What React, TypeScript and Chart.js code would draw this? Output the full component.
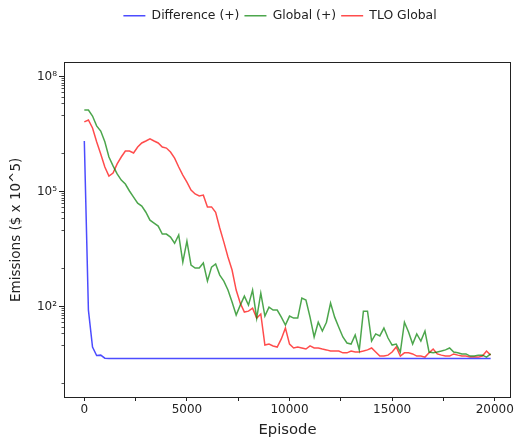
import React, { useEffect, useRef } from "react";
import { Chart, registerables } from "chart.js";

Chart.register(...registerables);

const FONT = "'DejaVu Sans', sans-serif";

const EPISODES = [
  0, 200, 400, 600, 800, 1000, 1200, 1400, 1600, 1800,
  2000, 2200, 2400, 2600, 2800, 3000, 3200, 3400, 3600, 3800,
  4000, 4200, 4400, 4600, 4800, 5000, 5200, 5400, 5600, 5800,
  6000, 6200, 6400, 6600, 6800, 7000, 7200, 7400, 7600, 7800,
  8000, 8200, 8400, 8600, 8800, 9000, 9200, 9400, 9600, 9800,
  10000, 10200, 10400, 10600, 10800, 11000, 11200, 11400, 11600, 11800,
  12000, 12200, 12400, 12600, 12800, 13000, 13200, 13400, 13600, 13800,
  14000, 14200, 14400, 14600, 14800, 15000, 15200, 15400, 15600, 15800,
  16000, 16200, 16400, 16600, 16800, 17000, 17200, 17400, 17600, 17800,
  18000, 18200, 18400, 18600, 18800, 19000, 19200, 19400, 19600, 19800,
];

const DIFFERENCE = [
  2.1e6, 81, 8.8, 5.3, 5.4, 4.5, 4.4, 4.4, 4.4, 4.4,
  4.4, 4.4, 4.4, 4.4, 4.4, 4.4, 4.4, 4.4, 4.4, 4.4,
  4.4, 4.4, 4.4, 4.4, 4.4, 4.4, 4.4, 4.4, 4.4, 4.4,
  4.4, 4.4, 4.4, 4.4, 4.4, 4.4, 4.4, 4.4, 4.4, 4.4,
  4.4, 4.4, 4.4, 4.4, 4.4, 4.4, 4.4, 4.4, 4.4, 4.4,
  4.4, 4.4, 4.4, 4.4, 4.4, 4.4, 4.4, 4.4, 4.4, 4.4,
  4.4, 4.4, 4.4, 4.4, 4.4, 4.4, 4.4, 4.4, 4.4, 4.4,
  4.4, 4.4, 4.4, 4.4, 4.4, 4.4, 4.4, 4.4, 4.4, 4.4,
  4.4, 4.4, 4.4, 4.4, 4.4, 4.4, 4.4, 4.4, 4.4, 4.4,
  4.4, 4.4, 4.4, 4.4, 4.4, 4.4, 4.4, 4.4, 4.4, 4.4,
];

const GLOBAL = [
  1.35e7, 1.35e7, 9.4e6, 5.2e6, 3.8e6, 2.0e6, 8.0e5, 4.7e5, 2.9e5, 2.0e5,
  1.58e5, 1.04e5, 7.2e4, 5.0e4, 4.2e4, 2.9e4, 1.8e4, 1.5e4, 1.26e4, 7.8e3,
  7.8e3, 6.5e3, 4.5e3, 7.4e3, 1.45e3, 5.1e3, 1.21e3, 1.01e3, 1.01e3, 1.37e3,
  463, 1070, 1290, 664, 463, 270, 131, 60, 109, 188,
  109, 270, 50, 225, 56.5, 97, 81, 81, 53, 33,
  56.5, 50, 50, 167, 148, 53, 16.1, 39, 23, 39,
  123, 53, 29, 16.1, 11.2, 10.5, 18.2, 7.4, 76, 76,
  12.6, 19.3, 17.1, 27.5, 15.1, 9.9, 10.5, 6.5, 39, 21.7,
  10.5, 19.3, 12.6, 23, 6.5, 6.2, 6.5, 6.9, 7.4, 8.3,
  6.5, 6.2, 5.8, 5.8, 5.1, 5.1, 5.4, 5.4, 4.8, 5.8,
];

const TLO_GLOBAL = [
  6.6e6, 7.4e6, 4.6e6, 2.0e6, 9.6e5, 4.4e5, 2.55e5, 3.06e5, 5.3e5, 8.0e5,
  1.15e6, 1.15e6, 1.02e6, 1.46e6, 1.86e6, 2.1e6, 2.4e6, 2.1e6, 1.86e6, 1.46e6,
  1.37e6, 1.08e6, 7.5e5, 4.4e5, 2.7e5, 1.78e5, 1.1e5, 8.7e4, 7.7e4, 8.1e4,
  4.0e4, 4.0e4, 2.9e4, 1.12e4, 4.8e3, 1.96e3, 900, 270, 123, 72,
  76, 91, 50, 64, 9.9, 10.5, 9.4, 8.8, 14.3, 27.5,
  10.5, 8.3, 8.8, 8.3, 7.8, 9.4, 8.3, 8.3, 7.8, 7.4,
  6.9, 6.9, 6.9, 6.2, 6.2, 6.9, 6.5, 6.5, 6.9, 7.4,
  8.3, 6.5, 5.1, 5.1, 5.4, 6.5, 8.8, 5.1, 6.2, 6.2,
  5.8, 5.1, 5.1, 4.8, 6.2, 7.8, 5.8, 5.4, 5.1, 5.1,
  5.8, 5.4, 5.1, 5.1, 4.8, 4.8, 4.8, 5.1, 6.9, 5.4,
];

const X_TICKS = [0, 2500, 5000, 7500, 10000, 12500, 15000, 17500, 20000];
const X_LABELED = [0, 5000, 10000, 15000, 20000];
const Y_MAJOR = [1e2, 1e5, 1e8];
const Y_LABELS = ["10\u00b2", "10\u2075", "10\u2078"];
const Y_MINOR = [
  1, 10, 1e3, 1e4, 1e6, 1e7,
  2e1, 3e1, 4e1, 5e1, 6e1, 7e1, 8e1, 9e1,
  2e4, 3e4, 4e4, 5e4, 6e4, 7e4, 8e4, 9e4,
  2e7, 3e7, 4e7, 5e7, 6e7, 7e7, 8e7, 9e7,
];

const SPINE = "#222222";

export default function App() {
  const ref = useRef<HTMLCanvasElement>(null);

  useEffect(() => {
    document.body.style.margin = "0";
    Chart.defaults.font.family = FONT;
    const canvas = ref.current;
    if (!canvas) return;

    const minorTicks = {
      id: "minorTicks",
      afterDraw(chart: any) {
        const ys = chart.scales.y;
        const area = chart.chartArea;
        const c = chart.ctx;
        c.save();
        c.strokeStyle = SPINE;
        c.lineWidth = 0.8;
        Y_MINOR.forEach((v) => {
          const py = Math.round(ys.getPixelForValue(v)) + 0.5;
          if (py < area.top || py > area.bottom) return;
          c.beginPath();
          c.moveTo(area.left - 2.5, py);
          c.lineTo(area.left, py);
          c.stroke();
        });
        c.restore();
      },
    };

    const mk = (label: string, values: number[], color: string) => ({
      label,
      data: EPISODES.map((x, i) => ({ x, y: values[i] })),
      borderColor: color,
      backgroundColor: color,
      borderWidth: 1.5,
      pointRadius: 0,
      fill: false,
      tension: 0,
    });

    const chart = new Chart(canvas, {
      type: "line",
      data: {
        datasets: [
          mk("Difference (+)", DIFFERENCE, "rgba(0,0,255,0.7)"),
          mk("Global (+)", GLOBAL, "rgba(0,128,0,0.7)"),
          mk("TLO Global", TLO_GLOBAL, "rgba(255,0,0,0.7)"),
        ],
      },
      options: {
        animation: false,
        responsive: false,
        layout: { padding: { left: 30, top: 4.5, right: -14, bottom: 0 } },
        plugins: {
          tooltip: { enabled: false },
          legend: {
            position: "top",
            labels: {
              usePointStyle: true,
              pointStyle: "line",
              pointStyleWidth: 22,
              boxHeight: 12,
              padding: 5,
              color: "#222",
              font: { family: FONT, size: 12.4 },
            },
          },
        },
        scales: {
          x: {
            type: "linear",
            position: "bottom",
            min: -990,
            max: 20790,
            afterBuildTicks: (s: any) => {
              s.ticks = X_TICKS.map((value) => ({ value }));
            },
            afterFit: (s: any) => {
              s.height = 41;
            },
            grid: { drawOnChartArea: false, tickLength: 4, tickColor: SPINE, tickWidth: 1 },
            border: { display: true, color: SPINE, width: 1 },
            ticks: {
              autoSkip: false,
              maxRotation: 0,
              padding: 2,
              color: "#222",
              font: { family: FONT, size: 12 },
              callback: (_v: any, i: number) =>
                X_LABELED.includes(X_TICKS[i]) ? String(X_TICKS[i]) : "",
            },
            title: {
              display: true,
              text: "Episode",
              color: "#222",
              font: { family: FONT, size: 14.8, lineHeight: 1 },
              padding: { top: 0, bottom: 0.6 },
            },
          },
          x2: {
            type: "linear",
            position: "top",
            grid: { display: false },
            border: { display: true, color: SPINE, width: 1 },
            ticks: { display: false },
            afterFit: (s: any) => {
              s.height = 30.8;
            },
          },
          y: {
            type: "logarithmic",
            position: "left",
            min: 0.4365,
            max: 2.317e8,
            afterBuildTicks: (s: any) => {
              s.ticks = Y_MAJOR.map((value) => ({ value }));
            },
            afterFit: (s: any) => {
              s.width = 34;
            },
            grid: { drawOnChartArea: false, tickLength: 5, tickColor: SPINE, tickWidth: 1 },
            border: { display: true, color: SPINE, width: 1 },
            ticks: {
              autoSkip: false,
              padding: 2,
              color: "#222",
              font: { family: FONT, size: 12 },
              callback: (_v: any, i: number) => Y_LABELS[i] ?? "",
            },
            title: {
              display: true,
              text: "Emissions ($ x 10^5)",
              color: "#222",
              font: { family: FONT, size: 13.5 },
              padding: { top: -21.4, bottom: 0 },
            },
          },
          y2: {
            type: "linear",
            position: "right",
            grid: { display: false },
            border: { display: true, color: SPINE, width: 1 },
            ticks: { display: false },
            afterFit: (s: any) => {
              s.width = 18;
            },
          },
        },
      },
      plugins: [minorTicks],
    } as any);

    return () => chart.destroy();
  }, []);

  return <canvas ref={ref} width={516} height={438} style={{ display: "block" }} />;
}
